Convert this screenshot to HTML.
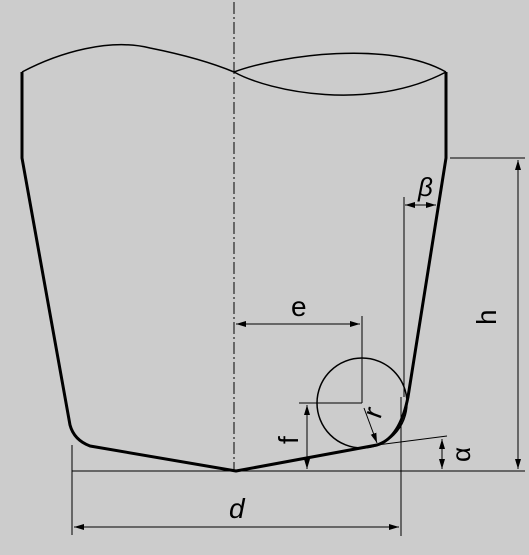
<!DOCTYPE html>
<html><head><meta charset="utf-8"><style>
html,body{margin:0;padding:0;background:#cccccc;}
svg{display:block;}
text{font-family:"Liberation Sans",sans-serif;fill:#000;}
</style></head><body>
<svg width="529" height="555" viewBox="0 0 529 555">
<defs>
<marker id="ar" viewBox="0 0 10 6" refX="10" refY="3" markerWidth="10" markerHeight="6" orient="auto-start-reverse" markerUnits="userSpaceOnUse">
<path d="M0,0 L10,3 L0,6 Z" fill="#000"/></marker>
</defs>
<line x1="234" y1="2" x2="234" y2="470" stroke="#000" stroke-width="1" stroke-dasharray="12,3,2,3"/>
<g fill="none" stroke="#000" stroke-width="1.5">
<path d="M22,72 C60,52 110,38 150,48 C185,55 210,62 234,72"/>
<path d="M234,72 C280,55 390,40 446,72"/>
<path d="M234,72 C270,92 370,112 446,72"/>
</g>
<path fill="none" stroke="#000" stroke-width="3" stroke-linejoin="round"
 d="M22,72 L22,158 L70,425 Q74,440 90,446 L236,471 L377,445 Q400,438 408,397 L446,158 L446,72"/>
<circle cx="362" cy="403" r="45" fill="none" stroke="#000" stroke-width="1.5"/>
<g stroke="#000" stroke-width="1" fill="none">
<line x1="72" y1="471" x2="525" y2="471"/>
<line x1="450" y1="158" x2="525" y2="158"/>
<line x1="518" y1="160" x2="518" y2="469" marker-start="url(#ar)" marker-end="url(#ar)"/>
<line x1="404" y1="197" x2="404" y2="397"/>
<line x1="405" y1="205" x2="436" y2="205" marker-start="url(#ar)" marker-end="url(#ar)"/>
<line x1="236" y1="324" x2="360" y2="324" marker-start="url(#ar)" marker-end="url(#ar)"/>
<line x1="362" y1="316" x2="362" y2="403"/>
<line x1="299" y1="403" x2="362" y2="403"/>
<line x1="307" y1="405" x2="307" y2="469" marker-start="url(#ar)" marker-end="url(#ar)"/>
<line x1="364" y1="408" x2="377" y2="443" marker-end="url(#ar)"/>
<line x1="377" y1="445" x2="447" y2="436"/>
<line x1="401" y1="397" x2="401" y2="445"/>
<line x1="442" y1="439" x2="442" y2="469" marker-start="url(#ar)" marker-end="url(#ar)"/>
<line x1="72" y1="445" x2="72" y2="535"/>
<line x1="401" y1="445" x2="401" y2="536"/>
<line x1="74" y1="527" x2="399" y2="527" marker-start="url(#ar)" marker-end="url(#ar)"/>
</g>
<text x="418" y="196" font-size="26" font-style="italic">β</text>
<text font-size="28" transform="translate(496,325) rotate(-90)">h</text>
<text x="291" y="316" font-size="28">e</text>
<text font-size="28" transform="translate(298,444) rotate(-90)">f</text>
<text font-size="28" transform="translate(380,420) rotate(-70)">r</text>
<text font-size="26" transform="translate(470,462) rotate(-90)">α</text>
<text x="229" y="518" font-size="28" font-style="italic">d</text>
</svg>
</body></html>
